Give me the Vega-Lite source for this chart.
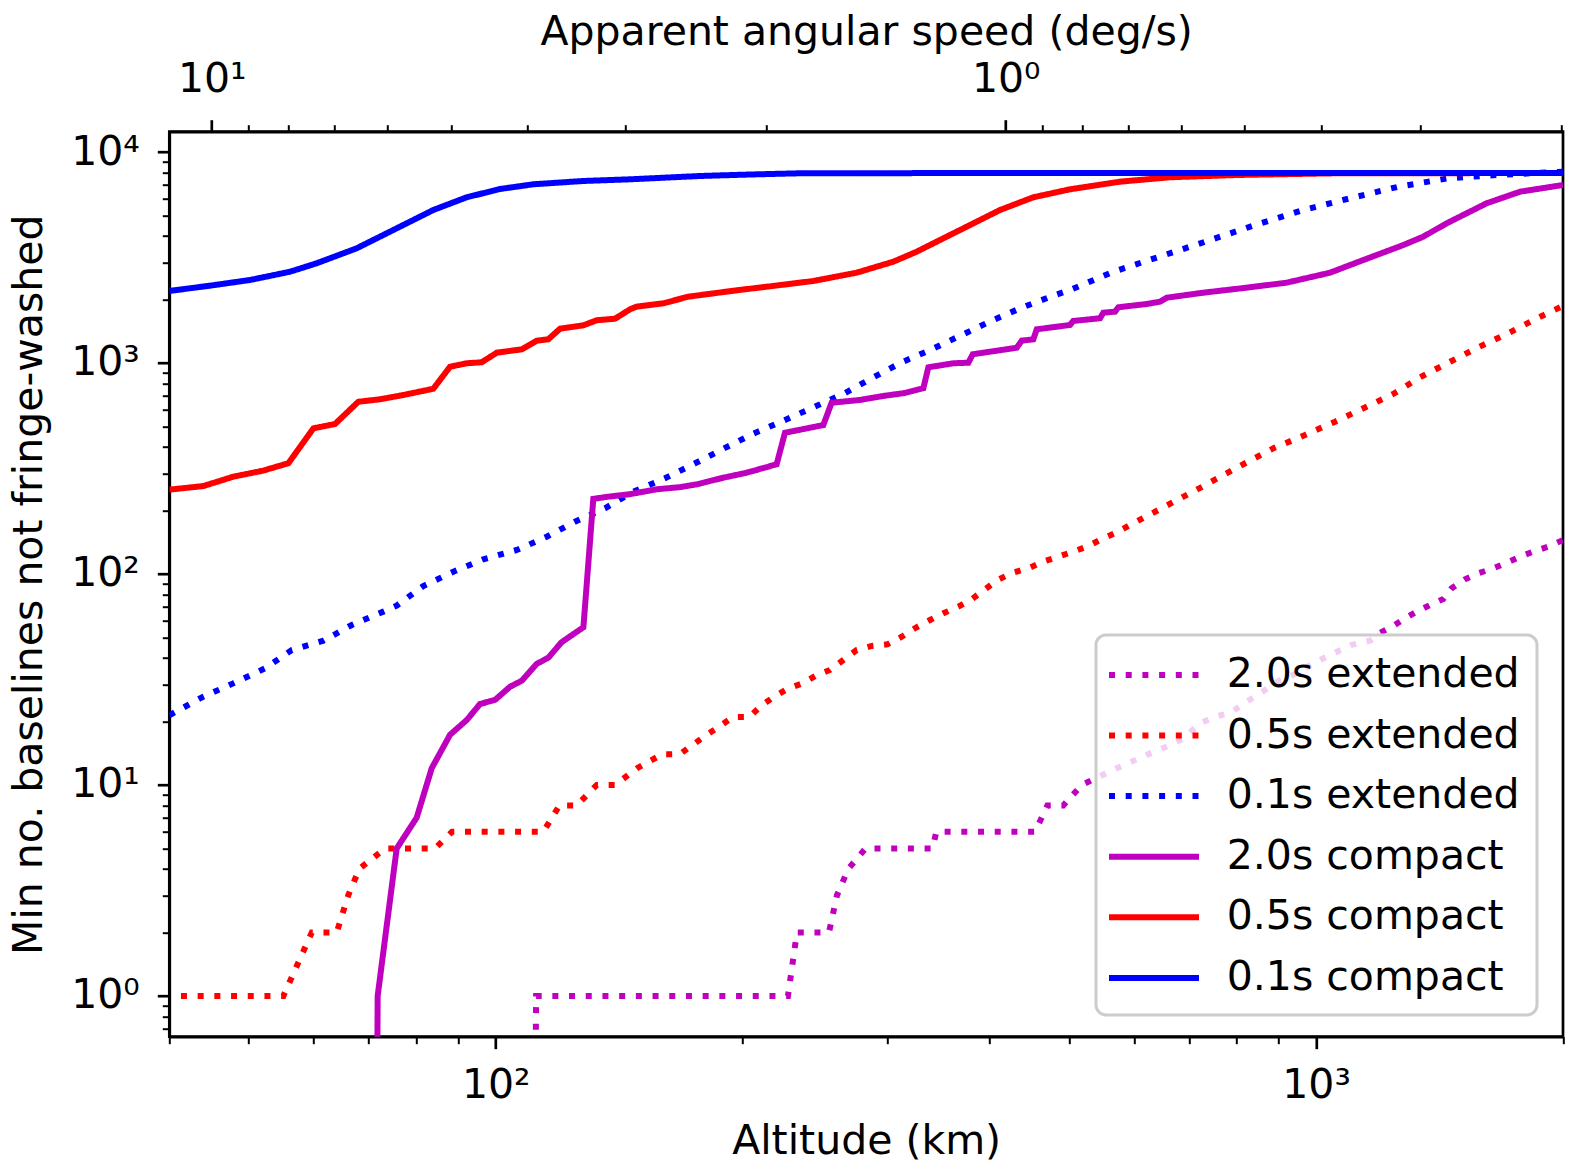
{
  "$schema": "https://vega.github.io/schema/vega-lite/v6.json",
  "width": 1393.7,
  "height": 905,
  "autosize": {"type": "none"},
  "padding": {"left": 169.3, "top": 131.7, "right": 19, "bottom": 132.3},
  "background": "white",
  "config": {
    "font": "DejaVu Sans",
    "view": {"stroke": "black", "strokeWidth": 2.7},
    "axis": {
      "grid": false,
      "domainColor": "black",
      "domainWidth": 2.7,
      "tickColor": "black",
      "labelColor": "black",
      "labelFontSize": 41,
      "labelOverlap": false,
      "labelFlush": false,
      "labelBound": false,
      "labelLimit": 500,
      "titleColor": "black",
      "titleFontSize": 41,
      "titleFontWeight": "normal",
      "titleLimit": 2000,
      "zindex": 1
    },
    "legend": {"strokeWidth": 3}
  },
  "data": {
    "values": [
      {"series": "2.0s extended", "altitude": 111.8, "baselines": 0.4},
      {"series": "2.0s extended", "altitude": 112.0, "baselines": 1},
      {"series": "2.0s extended", "altitude": 220.5, "baselines": 1},
      {"series": "2.0s extended", "altitude": 227.1, "baselines": 1},
      {"series": "2.0s extended", "altitude": 232.9, "baselines": 2},
      {"series": "2.0s extended", "altitude": 254.8, "baselines": 2},
      {"series": "2.0s extended", "altitude": 260.6, "baselines": 3},
      {"series": "2.0s extended", "altitude": 269.0, "baselines": 4},
      {"series": "2.0s extended", "altitude": 282.3, "baselines": 5},
      {"series": "2.0s extended", "altitude": 340.8, "baselines": 5},
      {"series": "2.0s extended", "altitude": 344.4, "baselines": 6},
      {"series": "2.0s extended", "altitude": 454.4, "baselines": 6},
      {"series": "2.0s extended", "altitude": 470.4, "baselines": 8},
      {"series": "2.0s extended", "altitude": 491.9, "baselines": 8},
      {"series": "2.0s extended", "altitude": 518.0, "baselines": 10},
      {"series": "2.0s extended", "altitude": 545.3, "baselines": 11},
      {"series": "2.0s extended", "altitude": 571.5, "baselines": 12},
      {"series": "2.0s extended", "altitude": 596.1, "baselines": 12.9},
      {"series": "2.0s extended", "altitude": 624.7, "baselines": 14},
      {"series": "2.0s extended", "altitude": 657.7, "baselines": 15.2},
      {"series": "2.0s extended", "altitude": 689.0, "baselines": 16.6},
      {"series": "2.0s extended", "altitude": 722.2, "baselines": 19.6},
      {"series": "2.0s extended", "altitude": 753.2, "baselines": 21.1},
      {"series": "2.0s extended", "altitude": 785.4, "baselines": 21.9},
      {"series": "2.0s extended", "altitude": 823.2, "baselines": 24.8},
      {"series": "2.0s extended", "altitude": 866.7, "baselines": 28.2},
      {"series": "2.0s extended", "altitude": 903.9, "baselines": 31.4},
      {"series": "2.0s extended", "altitude": 947.3, "baselines": 33.8},
      {"series": "2.0s extended", "altitude": 992.4, "baselines": 37.7},
      {"series": "2.0s extended", "altitude": 1040, "baselines": 41.3},
      {"series": "2.0s extended", "altitude": 1105, "baselines": 46.1},
      {"series": "2.0s extended", "altitude": 1164, "baselines": 48.3},
      {"series": "2.0s extended", "altitude": 1197, "baselines": 52.7},
      {"series": "2.0s extended", "altitude": 1242, "baselines": 56.7},
      {"series": "2.0s extended", "altitude": 1284, "baselines": 61.7},
      {"series": "2.0s extended", "altitude": 1327, "baselines": 66.3},
      {"series": "2.0s extended", "altitude": 1377, "baselines": 71.3},
      {"series": "2.0s extended", "altitude": 1429, "baselines": 76.1},
      {"series": "2.0s extended", "altitude": 1463, "baselines": 85.5},
      {"series": "2.0s extended", "altitude": 1519, "baselines": 94.4},
      {"series": "2.0s extended", "altitude": 1577, "baselines": 100.8},
      {"series": "2.0s extended", "altitude": 1645, "baselines": 106.4},
      {"series": "2.0s extended", "altitude": 1708, "baselines": 113.1},
      {"series": "2.0s extended", "altitude": 1773, "baselines": 120.8},
      {"series": "2.0s extended", "altitude": 1840, "baselines": 127.6},
      {"series": "2.0s extended", "altitude": 1919, "baselines": 134.7},
      {"series": "2.0s extended", "altitude": 2000, "baselines": 144.9},

      {"series": "0.5s extended", "altitude": 41.33, "baselines": 1},
      {"series": "0.5s extended", "altitude": 55.1, "baselines": 1},
      {"series": "0.5s extended", "altitude": 59.67, "baselines": 2},
      {"series": "0.5s extended", "altitude": 64.0, "baselines": 2},
      {"series": "0.5s extended", "altitude": 66.1, "baselines": 3},
      {"series": "0.5s extended", "altitude": 68.18, "baselines": 4},
      {"series": "0.5s extended", "altitude": 73.28, "baselines": 5},
      {"series": "0.5s extended", "altitude": 84.33, "baselines": 5},
      {"series": "0.5s extended", "altitude": 88.46, "baselines": 6},
      {"series": "0.5s extended", "altitude": 114.3, "baselines": 6},
      {"series": "0.5s extended", "altitude": 119.6, "baselines": 8},
      {"series": "0.5s extended", "altitude": 125.5, "baselines": 8},
      {"series": "0.5s extended", "altitude": 132.8, "baselines": 10},
      {"series": "0.5s extended", "altitude": 139.8, "baselines": 10},
      {"series": "0.5s extended", "altitude": 148.7, "baselines": 12},
      {"series": "0.5s extended", "altitude": 154.2, "baselines": 13},
      {"series": "0.5s extended", "altitude": 159.7, "baselines": 14},
      {"series": "0.5s extended", "altitude": 167.7, "baselines": 14},
      {"series": "0.5s extended", "altitude": 173.9, "baselines": 15.5},
      {"series": "0.5s extended", "altitude": 180.8, "baselines": 17.3},
      {"series": "0.5s extended", "altitude": 187.6, "baselines": 19},
      {"series": "0.5s extended", "altitude": 194.5, "baselines": 21},
      {"series": "0.5s extended", "altitude": 203.8, "baselines": 21},
      {"series": "0.5s extended", "altitude": 210.6, "baselines": 23.7},
      {"series": "0.5s extended", "altitude": 218.4, "baselines": 26.2},
      {"series": "0.5s extended", "altitude": 227.0, "baselines": 28.6},
      {"series": "0.5s extended", "altitude": 236.5, "baselines": 30.3},
      {"series": "0.5s extended", "altitude": 245.7, "baselines": 33},
      {"series": "0.5s extended", "altitude": 255.5, "baselines": 35.1},
      {"series": "0.5s extended", "altitude": 265.3, "baselines": 39.1},
      {"series": "0.5s extended", "altitude": 275.4, "baselines": 43.6},
      {"series": "0.5s extended", "altitude": 287.3, "baselines": 45.6},
      {"series": "0.5s extended", "altitude": 300.2, "baselines": 46.4},
      {"series": "0.5s extended", "altitude": 312.6, "baselines": 50.4},
      {"series": "0.5s extended", "altitude": 325.4, "baselines": 55.7},
      {"series": "0.5s extended", "altitude": 338.4, "baselines": 60.5},
      {"series": "0.5s extended", "altitude": 351.3, "baselines": 65.1},
      {"series": "0.5s extended", "altitude": 366.4, "baselines": 70},
      {"series": "0.5s extended", "altitude": 380.4, "baselines": 75.9},
      {"series": "0.5s extended", "altitude": 394.9, "baselines": 84.6},
      {"series": "0.5s extended", "altitude": 409.2, "baselines": 93.7},
      {"series": "0.5s extended", "altitude": 426.8, "baselines": 101.4},
      {"series": "0.5s extended", "altitude": 445.9, "baselines": 106.4},
      {"series": "0.5s extended", "altitude": 465.1, "baselines": 114.4},
      {"series": "0.5s extended", "altitude": 485.1, "baselines": 120.8},
      {"series": "0.5s extended", "altitude": 505.9, "baselines": 127.6},
      {"series": "0.5s extended", "altitude": 527.7, "baselines": 135.7},
      {"series": "0.5s extended", "altitude": 550.4, "baselines": 147.6},
      {"series": "0.5s extended", "altitude": 574.1, "baselines": 158.7},
      {"series": "0.5s extended", "altitude": 596.1, "baselines": 172.6},
      {"series": "0.5s extended", "altitude": 645.5, "baselines": 203},
      {"series": "0.5s extended", "altitude": 722.2, "baselines": 256},
      {"series": "0.5s extended", "altitude": 807.8, "baselines": 325},
      {"series": "0.5s extended", "altitude": 887.1, "baselines": 394},
      {"series": "0.5s extended", "altitude": 969.8, "baselines": 456},
      {"series": "0.5s extended", "altitude": 1055, "baselines": 527},
      {"series": "0.5s extended", "altitude": 1142, "baselines": 610},
      {"series": "0.5s extended", "altitude": 1242, "baselines": 713},
      {"series": "0.5s extended", "altitude": 1339, "baselines": 855},
      {"series": "0.5s extended", "altitude": 1457, "baselines": 1014},
      {"series": "0.5s extended", "altitude": 1577, "baselines": 1187},
      {"series": "0.5s extended", "altitude": 1715, "baselines": 1383},
      {"series": "0.5s extended", "altitude": 1866, "baselines": 1640},
      {"series": "0.5s extended", "altitude": 2000, "baselines": 1863},

      {"series": "0.1s extended", "altitude": 40, "baselines": 21.4},
      {"series": "0.1s extended", "altitude": 44.0, "baselines": 26.2},
      {"series": "0.1s extended", "altitude": 47.86, "baselines": 30.3},
      {"series": "0.1s extended", "altitude": 52.32, "baselines": 35.7},
      {"series": "0.1s extended", "altitude": 56.41, "baselines": 43.6},
      {"series": "0.1s extended", "altitude": 61.65, "baselines": 48.3},
      {"series": "0.1s extended", "altitude": 66.74, "baselines": 57.3},
      {"series": "0.1s extended", "altitude": 72.93, "baselines": 66.3},
      {"series": "0.1s extended", "altitude": 75.73, "baselines": 70.8},
      {"series": "0.1s extended", "altitude": 81.6, "baselines": 87.7},
      {"series": "0.1s extended", "altitude": 88.78, "baselines": 102.5},
      {"series": "0.1s extended", "altitude": 96.57, "baselines": 117.4},
      {"series": "0.1s extended", "altitude": 106.1, "baselines": 129.9},
      {"series": "0.1s extended", "altitude": 115.4, "baselines": 150.2},
      {"series": "0.1s extended", "altitude": 124.9, "baselines": 177},
      {"series": "0.1s extended", "altitude": 135.9, "baselines": 204.8},
      {"series": "0.1s extended", "altitude": 147.2, "baselines": 245.5},
      {"series": "0.1s extended", "altitude": 160.8, "baselines": 284.2},
      {"series": "0.1s extended", "altitude": 175.0, "baselines": 334.6},
      {"series": "0.1s extended", "altitude": 189.5, "baselines": 392.5},
      {"series": "0.1s extended", "altitude": 206.1, "baselines": 462.3},
      {"series": "0.1s extended", "altitude": 224.2, "baselines": 532.7},
      {"series": "0.1s extended", "altitude": 243.9, "baselines": 616.6},
      {"series": "0.1s extended", "altitude": 265.3, "baselines": 713.1},
      {"series": "0.1s extended", "altitude": 288.6, "baselines": 855.3},
      {"series": "0.1s extended", "altitude": 312.6, "baselines": 1008},
      {"series": "0.1s extended", "altitude": 340.0, "baselines": 1161},
      {"series": "0.1s extended", "altitude": 369.9, "baselines": 1357},
      {"series": "0.1s extended", "altitude": 402.4, "baselines": 1587},
      {"series": "0.1s extended", "altitude": 437.7, "baselines": 1829},
      {"series": "0.1s extended", "altitude": 478.3, "baselines": 2084},
      {"series": "0.1s extended", "altitude": 501.2, "baselines": 2218},
      {"series": "0.1s extended", "altitude": 566.1, "baselines": 2708},
      {"series": "0.1s extended", "altitude": 648.4, "baselines": 3215},
      {"series": "0.1s extended", "altitude": 739.2, "baselines": 3799},
      {"series": "0.1s extended", "altitude": 842.6, "baselines": 4508},
      {"series": "0.1s extended", "altitude": 964.9, "baselines": 5311},
      {"series": "0.1s extended", "altitude": 1100, "baselines": 6034},
      {"series": "0.1s extended", "altitude": 1260, "baselines": 6848},
      {"series": "0.1s extended", "altitude": 1450, "baselines": 7507},
      {"series": "0.1s extended", "altitude": 1661, "baselines": 7780},
      {"series": "0.1s extended", "altitude": 2000, "baselines": 8065},

      {"series": "2.0s compact", "altitude": 71.7, "baselines": 0.4},
      {"series": "2.0s compact", "altitude": 71.79, "baselines": 1},
      {"series": "2.0s compact", "altitude": 75.73, "baselines": 5},
      {"series": "2.0s compact", "altitude": 80.1, "baselines": 7},
      {"series": "2.0s compact", "altitude": 83.55, "baselines": 12},
      {"series": "2.0s compact", "altitude": 87.96, "baselines": 17.3},
      {"series": "2.0s compact", "altitude": 92.17, "baselines": 20.3},
      {"series": "2.0s compact", "altitude": 95.68, "baselines": 24.2},
      {"series": "2.0s compact", "altitude": 99.8, "baselines": 25.3},
      {"series": "2.0s compact", "altitude": 104.1, "baselines": 29.2},
      {"series": "2.0s compact", "altitude": 107.6, "baselines": 31.2},
      {"series": "2.0s compact", "altitude": 112.2, "baselines": 37.5},
      {"series": "2.0s compact", "altitude": 115.9, "baselines": 40.1},
      {"series": "2.0s compact", "altitude": 120.3, "baselines": 47.5},
      {"series": "2.0s compact", "altitude": 127.9, "baselines": 55.9},
      {"series": "2.0s compact", "altitude": 131.5, "baselines": 227},
      {"series": "2.0s compact", "altitude": 136.6, "baselines": 232},
      {"series": "2.0s compact", "altitude": 145.8, "baselines": 239},
      {"series": "2.0s compact", "altitude": 157.1, "baselines": 252},
      {"series": "2.0s compact", "altitude": 167.8, "baselines": 258},
      {"series": "2.0s compact", "altitude": 175.8, "baselines": 266},
      {"series": "2.0s compact", "altitude": 189.5, "baselines": 286},
      {"series": "2.0s compact", "altitude": 202.3, "baselines": 302},
      {"series": "2.0s compact", "altitude": 220.0, "baselines": 331},
      {"series": "2.0s compact", "altitude": 225.2, "baselines": 467},
      {"series": "2.0s compact", "altitude": 250.8, "baselines": 508},
      {"series": "2.0s compact", "altitude": 256.7, "baselines": 648},
      {"series": "2.0s compact", "altitude": 278.0, "baselines": 668},
      {"series": "2.0s compact", "altitude": 296.8, "baselines": 698},
      {"series": "2.0s compact", "altitude": 314.0, "baselines": 719},
      {"series": "2.0s compact", "altitude": 332.1, "baselines": 759},
      {"series": "2.0s compact", "altitude": 336.8, "baselines": 954},
      {"series": "2.0s compact", "altitude": 361.3, "baselines": 997},
      {"series": "2.0s compact", "altitude": 376.8, "baselines": 1003},
      {"series": "2.0s compact", "altitude": 381.5, "baselines": 1100},
      {"series": "2.0s compact", "altitude": 431.6, "baselines": 1181},
      {"series": "2.0s compact", "altitude": 437.7, "baselines": 1276},
      {"series": "2.0s compact", "altitude": 452.2, "baselines": 1295},
      {"series": "2.0s compact", "altitude": 456.6, "baselines": 1444},
      {"series": "2.0s compact", "altitude": 501.2, "baselines": 1514},
      {"series": "2.0s compact", "altitude": 505.9, "baselines": 1582},
      {"series": "2.0s compact", "altitude": 545.3, "baselines": 1629},
      {"series": "2.0s compact", "altitude": 550.4, "baselines": 1731},
      {"series": "2.0s compact", "altitude": 568.8, "baselines": 1751},
      {"series": "2.0s compact", "altitude": 574.1, "baselines": 1837},
      {"series": "2.0s compact", "altitude": 621.9, "baselines": 1904},
      {"series": "2.0s compact", "altitude": 645.5, "baselines": 1952},
      {"series": "2.0s compact", "altitude": 657.7, "baselines": 2039},
      {"series": "2.0s compact", "altitude": 728.9, "baselines": 2154},
      {"series": "2.0s compact", "altitude": 823.2, "baselines": 2275},
      {"series": "2.0s compact", "altitude": 921.0, "baselines": 2403},
      {"series": "2.0s compact", "altitude": 1040, "baselines": 2679},
      {"series": "2.0s compact", "altitude": 1142, "baselines": 3077},
      {"series": "2.0s compact", "altitude": 1278, "baselines": 3625},
      {"series": "2.0s compact", "altitude": 1351, "baselines": 3968},
      {"series": "2.0s compact", "altitude": 1443, "baselines": 4594},
      {"series": "2.0s compact", "altitude": 1614, "baselines": 5713},
      {"series": "2.0s compact", "altitude": 1773, "baselines": 6484},
      {"series": "2.0s compact", "altitude": 2000, "baselines": 6977},

      {"series": "0.5s compact", "altitude": 40, "baselines": 251},
      {"series": "0.5s compact", "altitude": 44.0, "baselines": 261},
      {"series": "0.5s compact", "altitude": 47.86, "baselines": 289},
      {"series": "0.5s compact", "altitude": 52.07, "baselines": 309},
      {"series": "0.5s compact", "altitude": 55.88, "baselines": 335},
      {"series": "0.5s compact", "altitude": 59.94, "baselines": 490},
      {"series": "0.5s compact", "altitude": 63.7, "baselines": 514},
      {"series": "0.5s compact", "altitude": 67.99, "baselines": 655},
      {"series": "0.5s compact", "altitude": 72.26, "baselines": 673},
      {"series": "0.5s compact", "altitude": 77.15, "baselines": 705},
      {"series": "0.5s compact", "altitude": 83.93, "baselines": 755},
      {"series": "0.5s compact", "altitude": 87.96, "baselines": 960},
      {"series": "0.5s compact", "altitude": 92.17, "baselines": 997},
      {"series": "0.5s compact", "altitude": 96.14, "baselines": 1008},
      {"series": "0.5s compact", "altitude": 100.3, "baselines": 1119},
      {"series": "0.5s compact", "altitude": 107.6, "baselines": 1161},
      {"series": "0.5s compact", "altitude": 112.2, "baselines": 1276},
      {"series": "0.5s compact", "altitude": 115.9, "baselines": 1295},
      {"series": "0.5s compact", "altitude": 119.8, "baselines": 1454},
      {"series": "0.5s compact", "altitude": 127.9, "baselines": 1509},
      {"series": "0.5s compact", "altitude": 132.8, "baselines": 1594},
      {"series": "0.5s compact", "altitude": 139.8, "baselines": 1622},
      {"series": "0.5s compact", "altitude": 145.8, "baselines": 1797},
      {"series": "0.5s compact", "altitude": 148.5, "baselines": 1849},
      {"series": "0.5s compact", "altitude": 160.1, "baselines": 1919},
      {"series": "0.5s compact", "altitude": 171.7, "baselines": 2062},
      {"series": "0.5s compact", "altitude": 194.9, "baselines": 2201},
      {"series": "0.5s compact", "altitude": 214.0, "baselines": 2299},
      {"series": "0.5s compact", "altitude": 243.9, "baselines": 2447},
      {"series": "0.5s compact", "altitude": 275.4, "baselines": 2679},
      {"series": "0.5s compact", "altitude": 305.3, "baselines": 3021},
      {"series": "0.5s compact", "altitude": 326.0, "baselines": 3370},
      {"series": "0.5s compact", "altitude": 351.3, "baselines": 3899},
      {"series": "0.5s compact", "altitude": 375.1, "baselines": 4426},
      {"series": "0.5s compact", "altitude": 411.9, "baselines": 5311},
      {"series": "0.5s compact", "altitude": 452.2, "baselines": 6100},
      {"series": "0.5s compact", "altitude": 501.2, "baselines": 6657},
      {"series": "0.5s compact", "altitude": 576.8, "baselines": 7233},
      {"series": "0.5s compact", "altitude": 663.7, "baselines": 7589},
      {"series": "0.5s compact", "altitude": 800.4, "baselines": 7780},
      {"series": "0.5s compact", "altitude": 1060, "baselines": 7928},
      {"series": "0.5s compact", "altitude": 2000, "baselines": 7950},

      {"series": "0.1s compact", "altitude": 40, "baselines": 2195},
      {"series": "0.1s compact", "altitude": 44.84, "baselines": 2325},
      {"series": "0.1s compact", "altitude": 50.18, "baselines": 2474},
      {"series": "0.1s compact", "altitude": 56.14, "baselines": 2708},
      {"series": "0.1s compact", "altitude": 60.48, "baselines": 2968},
      {"series": "0.1s compact", "altitude": 67.69, "baselines": 3497},
      {"series": "0.1s compact", "altitude": 74.32, "baselines": 4192},
      {"series": "0.1s compact", "altitude": 83.93, "baselines": 5311},
      {"series": "0.1s compact", "altitude": 92.17, "baselines": 6100},
      {"series": "0.1s compact", "altitude": 101.2, "baselines": 6677},
      {"series": "0.1s compact", "altitude": 111.1, "baselines": 7030},
      {"series": "0.1s compact", "altitude": 127.9, "baselines": 7289},
      {"series": "0.1s compact", "altitude": 145.8, "baselines": 7423},
      {"series": "0.1s compact", "altitude": 177.5, "baselines": 7697},
      {"series": "0.1s compact", "altitude": 204.2, "baselines": 7823},
      {"series": "0.1s compact", "altitude": 234.9, "baselines": 7928},
      {"series": "0.1s compact", "altitude": 400, "baselines": 7950},
      {"series": "0.1s compact", "altitude": 2000, "baselines": 7950}
    ]
  },
  "encoding": {
    "y": {
      "field": "baselines",
      "type": "quantitative",
      "scale": {"type": "log", "domain": [0.641, 12480], "nice": false},
      "axis": {
        "orient": "left",
        "title": "Min no. baselines not fringe-washed",
        "values": [0.7, 0.8, 0.9, 1, 2, 3, 4, 5, 6, 7, 8, 9, 10, 20, 30, 40, 50, 60, 70, 80, 90, 100, 200, 300, 400, 500, 600, 700, 800, 900, 1000, 2000, 3000, 4000, 5000, 6000, 7000, 8000, 9000, 10000],
        "labelExpr": "datum.value == 1 ? '10⁰' : datum.value == 10 ? '10¹' : datum.value == 100 ? '10²' : datum.value == 1000 ? '10³' : datum.value == 10000 ? '10⁴' : ''",
        "tickSize": {"condition": {"test": "datum.value == 1 || datum.value == 10 || datum.value == 100 || datum.value == 1000 || datum.value == 10000", "value": 12}, "value": 7},
        "tickWidth": {"condition": {"test": "datum.value == 1 || datum.value == 10 || datum.value == 100 || datum.value == 1000 || datum.value == 10000", "value": 2.7}, "value": 2},
        "labelPadding": 18,
        "titleX": -128.3,
        "titleY": 452.5,
        "titleAngle": 270,
        "titleAlign": "center",
        "titleBaseline": "alphabetic"
      }
    },
    "color": {
      "field": "series",
      "type": "nominal",
      "scale": {
        "domain": ["2.0s extended", "0.5s extended", "0.1s extended", "2.0s compact", "0.5s compact", "0.1s compact"],
        "range": ["#bf00bf", "#ff0000", "#0000ff", "#bf00bf", "#ff0000", "#0000ff"]
      },
      "legend": {
        "title": null,
        "orient": "none",
        "legendX": 926.7,
        "legendY": 503.2,
        "padding": 17,
        "rowPadding": 17.6,
        "symbolType": "M-2.25,0H2.25",
        "symbolSize": 1600,
        "symbolStrokeWidth": 6,
        "symbolOffset": 18,
        "labelOffset": 49.7,
        "labelFontSize": 41,
        "labelColor": "black",
        "labelLimit": 800,
        "fillColor": "rgba(255,255,255,0.8)",
        "strokeColor": "#cccccc",
        "cornerRadius": 10
      }
    },
    "strokeDash": {
      "field": "series",
      "type": "nominal",
      "scale": {
        "domain": ["2.0s extended", "0.5s extended", "0.1s extended", "2.0s compact", "0.5s compact", "0.1s compact"],
        "range": [[6, 10.7], [6, 10.7], [6, 10.7], [1, 0], [1, 0], [1, 0]]
      },
      "legend": {
        "title": null,
        "orient": "none",
        "legendX": 926.7,
        "legendY": 503.2,
        "padding": 17,
        "rowPadding": 17.6,
        "symbolType": "M-2.25,0H2.25",
        "symbolSize": 1600,
        "symbolStrokeWidth": 6,
        "symbolOffset": 18,
        "labelOffset": 49.7,
        "labelFontSize": 41,
        "labelColor": "black",
        "labelLimit": 800,
        "fillColor": "rgba(255,255,255,0.8)",
        "strokeColor": "#cccccc",
        "cornerRadius": 10
      }
    }
  },
  "layer": [
    {
      "transform": [{"filter": "indexof(datum.series, 'extended') >= 0"}],
      "mark": {"type": "line", "strokeWidth": 6, "clip": true},
      "encoding": {
        "x": {
          "field": "altitude",
          "type": "quantitative",
          "scale": {"type": "log", "domain": [40, 2000], "nice": false},
          "axis": {
            "orient": "bottom",
            "title": "Altitude (km)",
            "values": [40, 50, 60, 70, 80, 90, 100, 200, 300, 400, 500, 600, 700, 800, 900, 1000, 2000],
            "labelExpr": "datum.value == 100 ? '10²' : datum.value == 1000 ? '10³' : ''",
            "tickSize": {"condition": {"test": "datum.value == 100 || datum.value == 1000", "value": 12}, "value": 7},
            "tickWidth": {"condition": {"test": "datum.value == 100 || datum.value == 1000", "value": 2.7}, "value": 2},
            "labelPadding": 17,
            "titleX": 696.85,
            "titleY": 117,
            "titleAlign": "center",
            "titleBaseline": "alphabetic"
          }
        }
      }
    },
    {
      "transform": [{"filter": "indexof(datum.series, 'compact') >= 0"}],
      "mark": {"type": "line", "strokeWidth": 6, "clip": true},
      "encoding": {
        "x": {
          "field": "altitude",
          "type": "quantitative",
          "scale": {"type": "log", "domain": [40, 2000], "nice": false},
          "axis": {
            "orient": "top",
            "title": "Apparent angular speed (deg/s)",
            "values": [45.06, 49.95, 55.88, 63.58, 73.85, 88.21, 109.4, 143.7, 213.6, 418.5, 464.2, 518.9, 590.4, 685, 818.2, 1014.7, 1339.9, 1990],
            "labelExpr": "datum.value == 45.06 ? '10¹' : datum.value == 418.5 ? '10⁰' : ''",
            "tickSize": {"condition": {"test": "datum.value == 45.06 || datum.value == 418.5", "value": 12}, "value": 7},
            "tickWidth": {"condition": {"test": "datum.value == 45.06 || datum.value == 418.5", "value": 2.7}, "value": 2},
            "labelPadding": 19,
            "titleX": 696.85,
            "titleY": -87.7,
            "titleAlign": "center",
            "titleBaseline": "alphabetic"
          }
        }
      }
    }
  ],
  "resolve": {"axis": {"x": "independent"}}
}
